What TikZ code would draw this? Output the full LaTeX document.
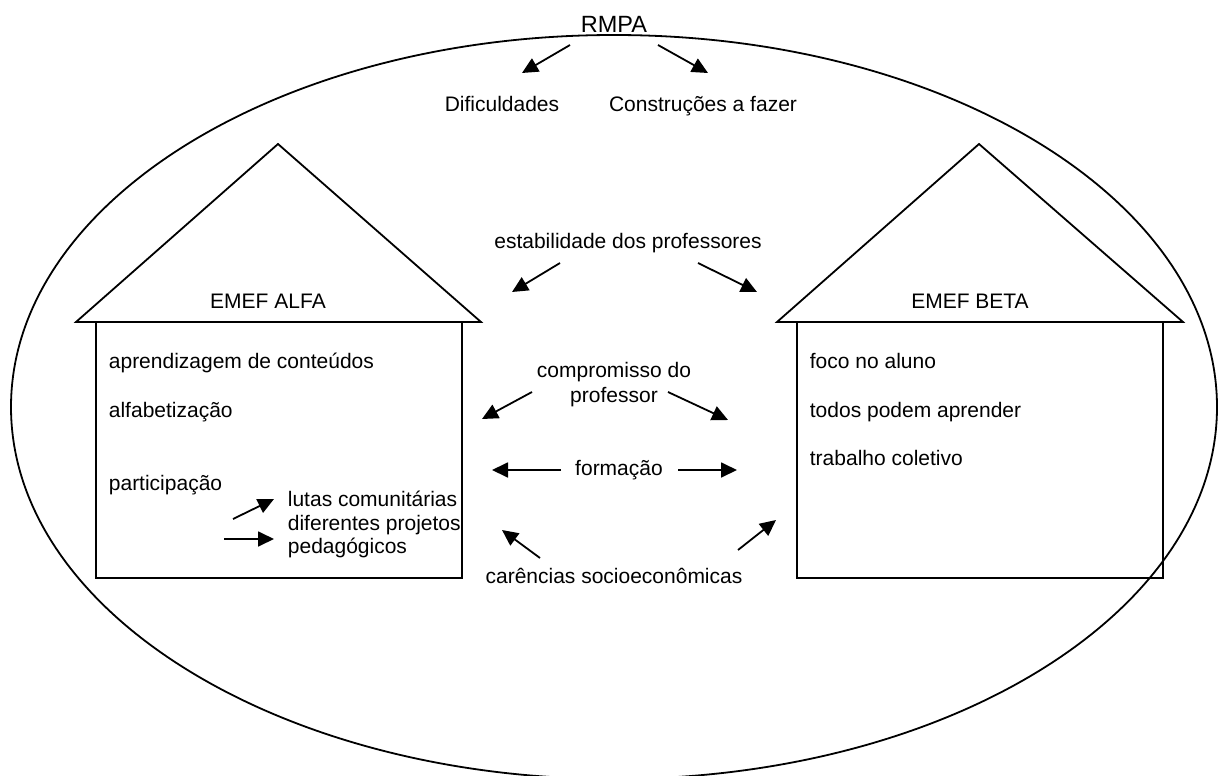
\documentclass[tikz,border=0pt]{standalone}
\usepackage{fontspec}
\setmainfont{Liberation Sans}
\usetikzlibrary{arrows.meta}
\begin{document}
\begin{tikzpicture}[x=1pt,y=-1pt,
  line width=1.8pt,
  txt/.style={inner sep=0pt,font=\fontsize{21}{23.5}\selectfont},
  arr/.style={line width=1.8pt,-{Triangle[length=16pt,width=15pt]}}]
\useasboundingbox (0,0) rectangle (1224,776);
% outer ellipse
\draw (614,407) ellipse [x radius=603, y radius=372];
% RMPA
\node[txt,anchor=base,font=\fontsize{23.5}{26}\selectfont] (rmpa) at (614,33) {RMPA};
\node[txt,anchor=base] (dif) at (502,111) {Dificuldades};
\node[txt,anchor=base] (con) at (703,111) {Construções a fazer};
\coordinate (r1s) at (570,45); \coordinate (r1e) at (522,73);
\coordinate (r2s) at (658,45); \coordinate (r2e) at (708,73);
\draw[arr] (r1s) -- (r1e);
\draw[arr] (r2s) -- (r2e);
% house ALFA
\coordinate (aApex) at (278,144);
\coordinate (aRL) at (76,322); \coordinate (aRR) at (481,322);
\draw (aRL) -- (aApex) -- (aRR) -- cycle;
\draw (96,322) rectangle (462,578);
\node[txt,anchor=base] (alfa) at (268,308) {EMEF ALFA};
\node[txt,anchor=base west] (a1) at (108,368) {aprendizagem de conteúdos};
\node[txt,anchor=base west] (a2) at (108,417) {alfabetização};
\node[txt,anchor=base west] (a3) at (108,490) {participação};
\node[txt,anchor=base west] (a4) at (287,506) {lutas comunitárias};
\node[txt,anchor=base west] (a5) at (287,530) {diferentes projetos};
\node[txt,anchor=base west] (a6) at (287,553) {pedagógicos};
\coordinate (p1s) at (233,519); \coordinate (p1e) at (274,499);
\coordinate (p2s) at (224,539); \coordinate (p2e) at (274,539);
\draw[arr] (p1s) -- (p1e);
\draw[arr] (p2s) -- (p2e);
% house BETA
\coordinate (bApex) at (979,144);
\coordinate (bRL) at (777,322); \coordinate (bRR) at (1183,322);
\draw (bRL) -- (bApex) -- (bRR) -- cycle;
\draw (797,322) rectangle (1163,578);
\node[txt,anchor=base] (beta) at (970,308) {EMEF BETA};
\node[txt,anchor=base west] (b1) at (809,368) {foco no aluno};
\node[txt,anchor=base west] (b2) at (809,417) {todos podem aprender};
\node[txt,anchor=base west] (b3) at (809,465) {trabalho coletivo};
% middle
\node[txt,anchor=base] (est) at (628,248) {estabilidade dos professores};
\coordinate (e1s) at (560,263); \coordinate (e1e) at (512,292);
\coordinate (e2s) at (698,263); \coordinate (e2e) at (757,292);
\draw[arr] (e1s) -- (e1e);
\draw[arr] (e2s) -- (e2e);
\node[txt,anchor=base] (comp) at (614,377) {compromisso do};
\node[txt,anchor=base] (comp2) at (614,402) {professor};
\coordinate (c1s) at (532,392); \coordinate (c1e) at (482,419);
\coordinate (c2s) at (668,392); \coordinate (c2e) at (728,420);
\draw[arr] (c1s) -- (c1e);
\draw[arr] (c2s) -- (c2e);
\node[txt,anchor=base] (form) at (619,475) {formação};
\coordinate (f1s) at (561,470); \coordinate (f1e) at (492,470);
\coordinate (f2s) at (678,470); \coordinate (f2e) at (737,470);
\draw[arr] (f1s) -- (f1e);
\draw[arr] (f2s) -- (f2e);
\node[txt,anchor=base] (car) at (614,583) {carências socioeconômicas};
\coordinate (s1s) at (540,558); \coordinate (s1e) at (502,530);
\coordinate (s2s) at (738,550); \coordinate (s2e) at (776,520);
\draw[arr] (s1s) -- (s1e);
\draw[arr] (s2s) -- (s2e);
\end{tikzpicture}
\end{document}
